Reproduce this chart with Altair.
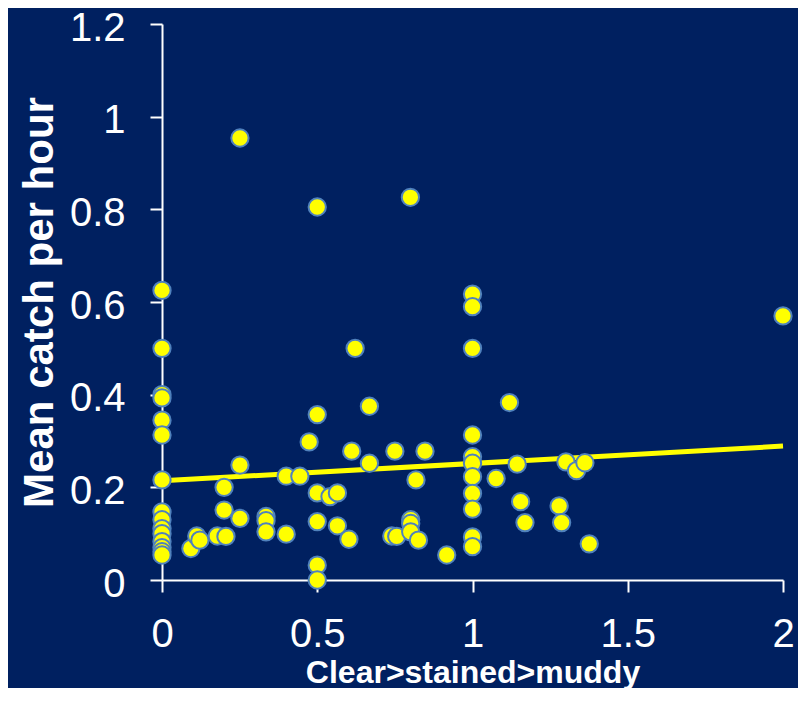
import altair as alt
import pandas as pd

# Scatter data: water clarity (Clear>stained>muddy) vs mean catch per hour
clarity = [
    0, 0, 0, 0, 0, 0, 0, 0, 0, 0, 0, 0, 0, 0, 0,
    0.093, 0.112, 0.122, 0.178, 0.206, 0.2, 0.2,
    0.251, 0.251, 0.251, 0.335, 0.335, 0.335,
    0.4, 0.4, 0.444, 0.474,
    0.5, 0.5, 0.5, 0.5, 0.5, 0.5, 0.541, 0.565, 0.565, 0.602,
    0.622, 0.611, 0.668, 0.668, 0.74, 0.756, 0.75,
    0.8, 0.801, 0.801, 0.801, 0.818, 0.826, 0.847, 0.917,
    1, 1, 1, 1, 1, 1, 1, 1, 1, 1, 1,
    1.076, 1.119, 1.144, 1.155, 1.169, 1.279, 1.287, 1.301, 1.335, 1.362, 1.376,
    2.0,
]
catch = [
    0.625, 0.5, 0.40, 0.393, 0.345, 0.313, 0.216, 0.147, 0.13, 0.111, 0.10, 0.083, 0.07, 0.061, 0.054,
    0.068, 0.095, 0.086, 0.095, 0.094, 0.2, 0.151,
    0.954, 0.248, 0.133, 0.137, 0.128, 0.104,
    0.099, 0.224, 0.224, 0.298,
    0.805, 0.357, 0.188, 0.126, 0.032, 0.0, 0.18, 0.188, 0.117, 0.088,
    0.5, 0.278, 0.375, 0.252, 0.095, 0.094, 0.278,
    0.826, 0.13, 0.122, 0.104, 0.216, 0.086, 0.278, 0.054,
    0.617, 0.59, 0.5, 0.313, 0.266, 0.252, 0.223, 0.187, 0.153, 0.093, 0.072,
    0.219, 0.383, 0.25, 0.169, 0.124, 0.16, 0.124, 0.255, 0.236, 0.253, 0.078,
    0.57,
]

# Fitted trend line end points
trend_x = [0, 2]
trend_y = [0.214, 0.289]

x_ticks = [0, 0.5, 1, 1.5, 2]
y_ticks = [0, 0.2, 0.4, 0.6, 0.8, 1.0, 1.2]

pts = pd.DataFrame({"clarity": clarity, "catch": catch})
trend = pd.DataFrame({"clarity": trend_x, "catch": trend_y})

FONT = "Liberation Sans"
WHITE = "#FFFFFF"

x_enc = alt.X(
    "clarity:Q",
    scale=alt.Scale(domain=[0, 2], nice=False, zero=False),
    axis=alt.Axis(
        title="Clear>stained>muddy",
        values=x_ticks,
        format="~g",
        grid=False,
        domainColor=WHITE,
        domainWidth=2,
        tickColor=WHITE,
        tickWidth=2,
        tickSize=12,
        labelColor=WHITE,
        labelFont=FONT,
        labelFontSize=40,
        labelPadding=22,
        labelFlush=False,
        titleColor=WHITE,
        titleFont=FONT,
        titleFontSize=32,
        titleFontWeight="bold",
        titleBaseline="alphabetic",
        titleY=102,
    ),
)
y_enc = alt.Y(
    "catch:Q",
    scale=alt.Scale(domain=[0, 1.2], nice=False, zero=False),
    axis=alt.Axis(
        title="Mean catch per hour",
        values=y_ticks,
        format="~g",
        grid=False,
        domainColor=WHITE,
        domainWidth=2,
        tickColor=WHITE,
        tickWidth=2,
        tickSize=12,
        labelColor=WHITE,
        labelFont=FONT,
        labelFontSize=40,
        labelPadding=25,
        labelOffset=4,
        labelFlush=False,
        titleColor=WHITE,
        titleFont=FONT,
        titleFontSize=42,
        titleFontWeight="bold",
        titleBaseline="middle",
        titleX=-123,
        titleY=278,
    ),
)

line = alt.Chart(trend).mark_line(color="#FFFF00", strokeWidth=5).encode(x=x_enc, y=y_enc)

points = alt.Chart(pts).mark_circle(
    size=300, color="#FFFF00", opacity=1, stroke="#4F81BD", strokeWidth=2
).encode(x="clarity:Q", y="catch:Q")

chart = (
    alt.layer(line, points)
    .properties(
        width=621,
        height=556,
        background="#002060",
        padding={"left": 154, "top": 16, "right": 15, "bottom": 108},
        autosize=alt.AutoSizeParams(type="none"),
    )
    .configure_view(stroke=None)
)

chart.save("out.html", embed_options={"renderer": "svg", "actions": False})
